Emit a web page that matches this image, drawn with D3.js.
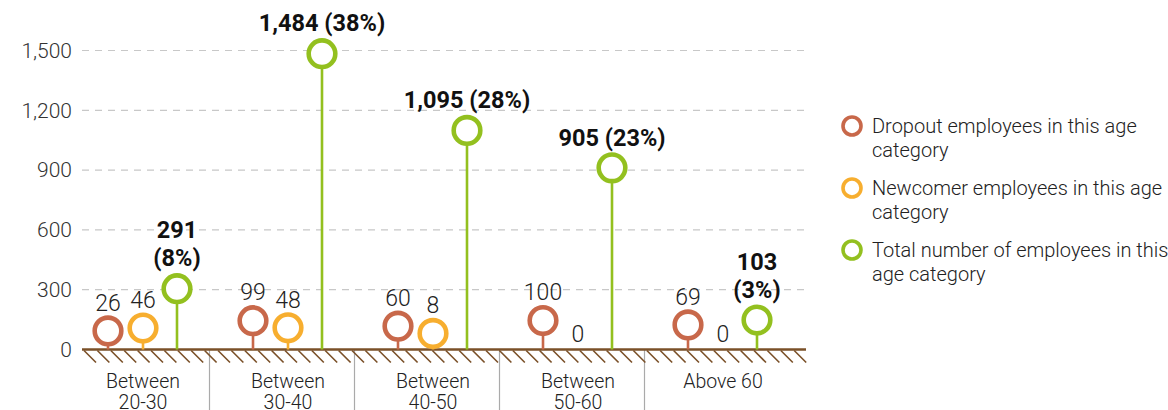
<!DOCTYPE html>
<html><head><meta charset="utf-8">
<script src="https://cdn.jsdelivr.net/npm/d3@7/dist/d3.min.js"></script>
<style>
body{margin:0;background:#fff;}
svg{display:block;font-family:Roboto,"Noto Sans",sans-serif;}
</style></head>
<body><svg id="c" width="1168" height="410"></svg>
<script>
const categories = [["Between","20-30"],["Between","30-40"],["Between","40-50"],["Between","50-60"],["Above 60"]];
const dropout = [26, 99, 60, 100, 69];
const newcomer = [46, 48, 8, 0, 0];
const total = [291, 1484, 1095, 905, 103];
const yTicks = [0, 300, 600, 900, 1200, 1500];
const legendLabels = [["Dropout employees in this age","category"],["Newcomer employees in this age","category"],["Total number of employees in this","age category"]];
const colors = ["#c8684a", "#f7ae2f", "#93c01f"];

const svg = d3.select("#c");
const y = d3.scaleLinear().domain([0, 1500]).range([349.5, 50.5]);
const x = d3.scaleBand().domain(d3.range(categories.length)).range([70.5, 795.5]);
const lift = d3.scaleLinear().domain([0, 100, 300, 1500]).range([15, 9, 2.5, 0]).clamp(true);
const cy = v => y(v) - lift(v);
const R = 13.3, SW = 4.6;
const x0 = 82, x1 = 806, base = y(0);
const sumTotal = d3.sum(total);
const fmt = d3.format(",");

// grid
svg.append("g").selectAll("line").data(yTicks.filter(d => d > 0)).join("line")
  .attr("x1", x0).attr("x2", x1).attr("y1", d => y(d)).attr("y2", d => y(d))
  .attr("stroke", "#c8c8c8").attr("stroke-width", 1.2).attr("stroke-dasharray", "7,6");
// y labels
const yAxis = d3.axisLeft(y).tickValues(yTicks).tickFormat(fmt).tickSize(0).tickPadding(10);
const ga = svg.append("g").attr("transform", `translate(${x0},0)`).call(yAxis);
ga.select(".domain").remove();
ga.selectAll("text").attr("font-size", 21).attr("font-weight", 300).attr("fill", "#333").attr("font-family", "Roboto");

// separators
svg.append("g").selectAll("line").data(d3.range(1, categories.length)).join("line")
  .attr("x1", d => x(d) - 6).attr("x2", d => x(d) - 6).attr("y1", base).attr("y2", 410)
  .attr("stroke", "#aaa").attr("stroke-width", 1.2);

// hatching
svg.append("g").selectAll("line").data(d3.range(x0 + 2, x1 - 4, 13.4)).join("line")
  .attr("x1", d => d).attr("y1", base + 1).attr("x2", d => d + 12).attr("y2", base + 13)
  .attr("stroke", "#7a5028").attr("stroke-width", 1.6);
svg.append("line").attr("x1", x0).attr("x2", x1).attr("y1", base).attr("y2", base)
  .attr("stroke", "#7a5028").attr("stroke-width", 2.6);

// category labels
const gc = svg.append("g");
categories.forEach((c, i) => {
  const t = gc.append("text").attr("x", x(i) + x.bandwidth() / 2).attr("y", 388)
    .attr("text-anchor", "middle").attr("font-size", 19.5).attr("font-weight", 300).attr("fill", "#222");
  c.forEach((l, j) => t.append("tspan").attr("x", x(i) + x.bandwidth() / 2).attr("dy", j ? 21 : 0).text(l));
});

// series
const series = [dropout, newcomer, total];
const offs = [-35, 0, 34];
series.forEach((arr, s) => {
  arr.forEach((v, i) => {
    const cx = x(i) + x.bandwidth() / 2 + offs[s];
    const c = cy(v);
    if (v === 0) {
      svg.append("text").attr("x", cx).attr("y", c + 7).attr("text-anchor", "middle")
        .attr("font-size", 23).attr("font-weight", 300).attr("fill", "#222").text("0");
      return;
    }
    svg.append("line").attr("x1", cx).attr("x2", cx).attr("y1", c + R).attr("y2", base)
      .attr("stroke", colors[s]).attr("stroke-width", 2.6);
    svg.append("circle").attr("cx", cx).attr("cy", c).attr("r", R)
      .attr("fill", "#fff").attr("stroke", colors[s]).attr("stroke-width", SW);
    if (s < 2) {
      svg.append("text").attr("x", cx).attr("y", c - R - 7).attr("text-anchor", "middle")
        .attr("font-size", 23).attr("font-weight", 300).attr("fill", "#222").text(fmt(v));
    } else {
      const pct = Math.round(v / sumTotal * 100) + "%";
      const t = svg.append("text").attr("x", cx).attr("text-anchor", "middle")
        .attr("font-size", 23.5).attr("font-weight", 700).attr("fill", "#111");
      if (v < 600) {
        t.attr("y", c - R - 37);
        t.append("tspan").attr("x", cx).text(fmt(v));
        t.append("tspan").attr("x", cx).attr("dy", 28).text("(" + pct + ")");
      } else {
        t.attr("y", c - R - 9).text(fmt(v) + " (" + pct + ")");
      }
    }
  });
});

// legend
const gl = svg.append("g");
legendLabels.forEach((l, i) => {
  const ly = 126 + i * 62;
  gl.append("circle").attr("cx", 852).attr("cy", ly).attr("r", 9).attr("fill", "#fff")
    .attr("stroke", colors[i]).attr("stroke-width", 3.6);
  const t = gl.append("text").attr("x", 872).attr("y", ly + 7).attr("font-size", 20)
    .attr("font-weight", 300).attr("fill", "#222");
  l.forEach((s, j) => t.append("tspan").attr("x", 872).attr("dy", j ? 24 : 0).text(s));
});
</script></body></html>
